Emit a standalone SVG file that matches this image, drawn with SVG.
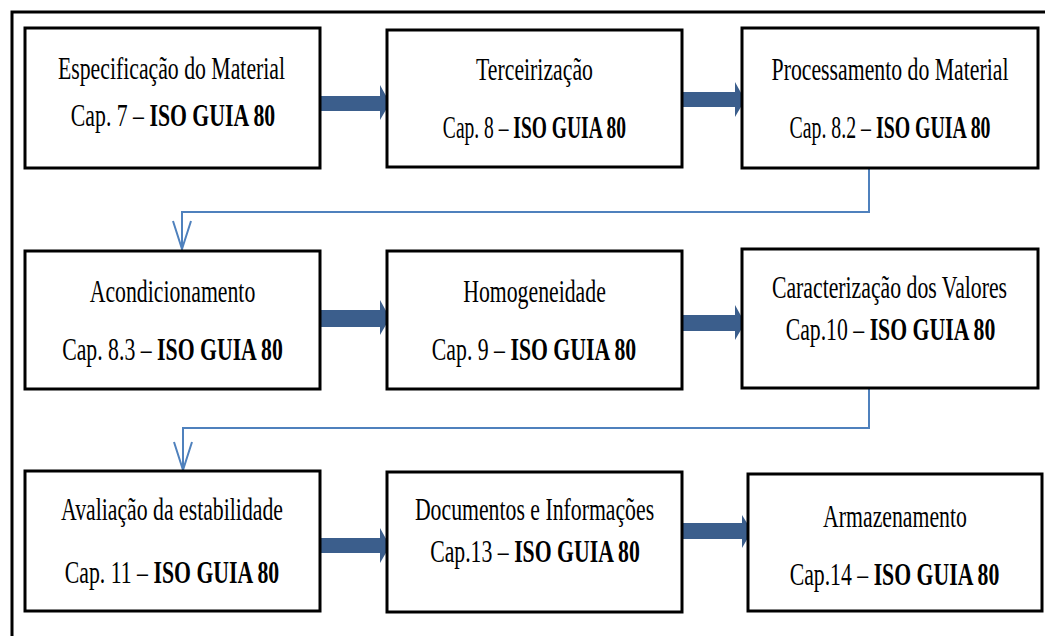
<svg xmlns="http://www.w3.org/2000/svg" width="1045" height="636" viewBox="0 0 1045 636">
<style>
.box{fill:#fff;stroke:#000;stroke-width:3}
.t{font-family:"Liberation Serif","Times New Roman",serif;font-size:32px;fill:#000;text-anchor:middle}
.b{font-weight:bold}
.big{fill:#3b5e8c}
.con{fill:none;stroke:#4f81bd;stroke-width:2}
</style>
<defs>
<marker id="v" markerUnits="userSpaceOnUse" markerWidth="32" markerHeight="22" refX="29" refY="10" orient="auto" viewBox="0 0 32 22">
<path d="M1,1 L29,10 L1,19" fill="none" stroke="#4f81bd" stroke-width="2"/>
</marker>
</defs>
<rect width="1045" height="636" fill="#fff"/>
<path d="M12,636 V12 H1045" fill="none" stroke="#000" stroke-width="3"/>

<g id="connectors">
<polygon class="big" points="317,96 380,96 380,85 390,103 380,120 380,111 317,111"/>
<polygon class="big" points="679,92 735,92 735,82 745,100 735,117 735,107 679,107"/>
<polygon class="big" points="317,310 380,310 380,300 390,318 380,335 380,327 317,327"/>
<polygon class="big" points="679,315 735,315 735,305 745,323 735,340 735,331 679,331"/>
<polygon class="big" points="317,538 380,538 380,528 390,546 380,563 380,553 317,553"/>
<polygon class="big" points="679,523 742,523 742,515 752,531 742,548 742,539 679,539"/>
<path class="con" d="M869,168 V212 H182 V249" marker-end="url(#v)"/>
<path class="con" d="M869,389 V428 H183 V470" marker-end="url(#v)"/>
</g>

<g id="n1">
<rect class="box" x="25" y="28" width="295" height="140"/>
<text class="t" transform="translate(171.5,79) scale(0.68,1)">Especificação do Material</text>
<text class="t" transform="translate(173,126) scale(0.68,1)">Cap. 7 – <tspan class="b">ISO GUIA 80</tspan></text>
</g>
<g id="n2">
<rect class="box" x="387" y="30" width="295" height="137"/>
<text class="t" transform="translate(534.5,80) scale(0.68,1)">Terceirização</text>
<text class="t" transform="translate(534.5,138) scale(0.61,1)">Cap. 8 – <tspan class="b">ISO GUIA 80</tspan></text>
</g>
<g id="n3">
<rect class="box" x="742" y="28" width="296" height="140"/>
<text class="t" transform="translate(890,80) scale(0.68,1)">Processamento do Material</text>
<text class="t" transform="translate(890,138) scale(0.62,1)">Cap. 8.2 – <tspan class="b">ISO GUIA 80</tspan></text>
</g>
<g id="n4">
<rect class="box" x="25" y="251" width="295" height="138"/>
<text class="t" transform="translate(172.5,302) scale(0.68,1)">Acondicionamento</text>
<text class="t" transform="translate(172.5,360) scale(0.68,1)">Cap. 8.3 – <tspan class="b">ISO GUIA 80</tspan></text>
</g>
<g id="n5">
<rect class="box" x="387" y="251" width="295" height="138"/>
<text class="t" transform="translate(534.5,302) scale(0.68,1)">Homogeneidade</text>
<text class="t" transform="translate(534,360) scale(0.68,1)">Cap. 9 – <tspan class="b">ISO GUIA 80</tspan></text>
</g>
<g id="n6">
<rect class="box" x="742" y="249" width="296" height="139"/>
<text class="t" transform="translate(889.5,298) scale(0.68,1)">Caracterização dos Valores</text>
<text class="t" transform="translate(890.5,340) scale(0.68,1)">Cap.10 – <tspan class="b">ISO GUIA 80</tspan></text>
</g>
<g id="n7">
<rect class="box" x="25" y="471" width="295" height="140"/>
<text class="t" transform="translate(172,520) scale(0.68,1)">Avaliação da estabilidade</text>
<text class="t" transform="translate(172,583) scale(0.68,1)">Cap. 11 – <tspan class="b">ISO GUIA 80</tspan></text>
</g>
<g id="n8">
<rect class="box" x="387" y="472" width="295" height="140"/>
<text class="t" transform="translate(534.5,520) scale(0.68,1)">Documentos e Informações</text>
<text class="t" transform="translate(535,562) scale(0.68,1)">Cap.13 – <tspan class="b">ISO GUIA 80</tspan></text>
</g>
<g id="n9">
<rect class="box" x="748" y="474" width="294" height="137"/>
<text class="t" transform="translate(895,527) scale(0.68,1)">Armazenamento</text>
<text class="t" transform="translate(894.5,585) scale(0.68,1)">Cap.14 – <tspan class="b">ISO GUIA 80</tspan></text>
</g>
</svg>
